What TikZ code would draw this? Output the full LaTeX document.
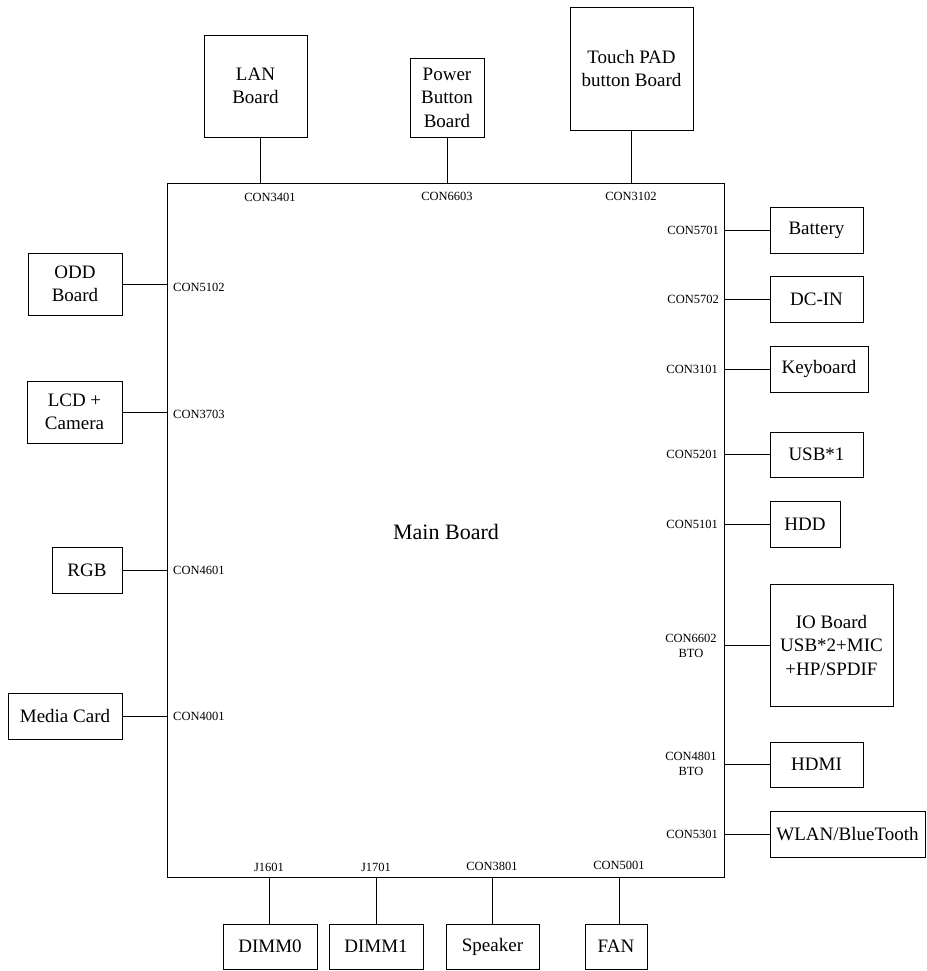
\documentclass[tikz,border=0pt]{standalone}
\usepackage{fontspec}
\setmainfont{Liberation Serif}
\begin{document}
\begin{tikzpicture}[x=1pt,y=-1pt,
  box/.style={draw,line width=0.9pt,inner sep=0pt,align=center,font=\fontsize{19}{23.5}\selectfont},
  lbl/.style={inner sep=0pt,align=center,font=\fontsize{12.5}{15}\selectfont},
  wire/.style={line width=0.9pt}]
\useasboundingbox (0,0) rectangle (926,971);
% main board
\node[draw,line width=0.9pt,minimum width=557pt,minimum height=694pt,inner sep=0pt] (main) at (445.5,530) {};
\node[font=\fontsize{22}{26}\selectfont] (mtext) at (446,532) {Main Board};
% top
\node[box,minimum width=103pt,minimum height=102pt] (lan) at (255.5,86) {LAN\\Board};
\node[box,minimum width=74pt,minimum height=79pt] (pwr) at (447,97.5) {Power\\Button\\Board};
\node[box,minimum width=123pt,minimum height=123pt] (tp) at (631.5,68.5) {Touch PAD\\button Board};
\draw[wire] ([xshift=4.5pt]lan.south) -- ([xshift=4.5pt]lan.south |- main.north);
\draw[wire] (pwr.south) -- (pwr.south |- main.north);
\draw[wire] (tp.south) -- (tp.south |- main.north);
\node[lbl] (l3401) at (270,197) {CON3401};
\node[lbl] (l6603) at (447,196) {CON6603};
\node[lbl] (l3102) at (631,196) {CON3102};
% right
\node[box,minimum width=93pt,minimum height=46pt] (bat) at (816.5,230) {Battery};
\node[box,minimum width=93pt,minimum height=46pt] (dc) at (816.5,299) {DC-IN};
\node[box,minimum width=98pt,minimum height=46pt] (kb) at (819,369) {Keyboard};
\node[box,minimum width=93pt,minimum height=45pt] (usb) at (816.5,454.5) {USB*1};
\node[box,minimum width=70pt,minimum height=46pt] (hdd) at (805,524) {HDD};
\node[box,minimum width=123pt,minimum height=122pt] (io) at (831.5,645) {IO Board\\USB*2+MIC\\+HP/SPDIF};
\node[box,minimum width=93pt,minimum height=45pt] (hdmi) at (816.5,764.5) {HDMI};
\node[box,minimum width=155pt,minimum height=46pt] (wlan) at (847.5,834) {WLAN/BlueTooth};
\foreach \n in {bat,dc,kb,usb,hdd,io,hdmi,wlan}
  \draw[wire] (\n.west) -- (\n.west -| main.east);
\node[lbl,anchor=east] (l5701) at (719,230) {CON5701};
\node[lbl,anchor=east] (l5702) at (719,299) {CON5702};
\node[lbl,anchor=east] (l3101) at (718,369) {CON3101};
\node[lbl,anchor=east] (l5201) at (718,454) {CON5201};
\node[lbl,anchor=east] (l5101) at (718,524) {CON5101};
\node[lbl] (l6602) at (691,645.5) {CON6602\\BTO};
\node[lbl] (l4801) at (691,763.5) {CON4801\\BTO};
\node[lbl,anchor=east] (l5301) at (718,834) {CON5301};
% left
\node[box,minimum width=94pt,minimum height=62pt] (odd) at (75,284) {ODD\\Board};
\node[box,minimum width=95pt,minimum height=62pt] (lcd) at (74.5,412) {LCD +\\Camera};
\node[box,minimum width=70pt,minimum height=46pt] (rgb) at (87,570) {RGB};
\node[box,minimum width=114pt,minimum height=46pt] (mc) at (65,716) {Media Card};
\foreach \n in {odd,lcd,rgb,mc}
  \draw[wire] (\n.east) -- (\n.east -| main.west);
\node[lbl,anchor=west] (l5102) at (173,287) {CON5102};
\node[lbl,anchor=west] (l3703) at (173,414) {CON3703};
\node[lbl,anchor=west] (l4601) at (173,570) {CON4601};
\node[lbl,anchor=west] (l4001) at (173,716) {CON4001};
% bottom
\node[box,minimum width=94pt,minimum height=45pt] (d0) at (270,946.5) {DIMM0};
\node[box,minimum width=94pt,minimum height=45pt] (d1) at (376,946.5) {DIMM1};
\node[box,minimum width=93pt,minimum height=45pt] (spk) at (492.5,946.5) {Speaker};
\node[box,minimum width=62pt,minimum height=45pt] (fan) at (616,946.5) {FAN};
\draw[wire] ([xshift=-1pt]d0.north) -- ([xshift=-1pt]d0.north |- main.south);
\draw[wire] (d1.north) -- (d1.north |- main.south);
\draw[wire] (spk.north) -- (spk.north |- main.south);
\draw[wire] ([xshift=3pt]fan.north) -- ([xshift=3pt]fan.north |- main.south);
\node[lbl] (l1601) at (269,867) {J1601};
\node[lbl] (l1701) at (376,867) {J1701};
\node[lbl] (l3801) at (492,866) {CON3801};
\node[lbl] (l5001) at (619,865) {CON5001};
\end{tikzpicture}
\end{document}
